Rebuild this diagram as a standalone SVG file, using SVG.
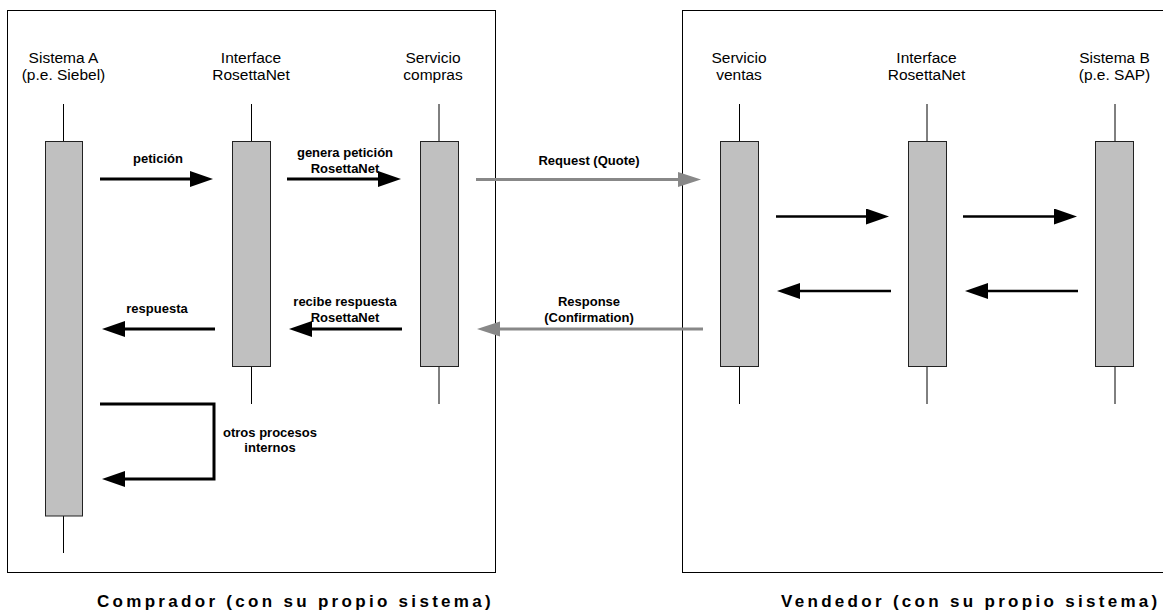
<svg xmlns="http://www.w3.org/2000/svg" width="1163" height="613" viewBox="0 0 1163 613">
<style>
.frame{fill:none;stroke:#000;stroke-width:1}
.life{stroke:#000;stroke-width:1}
.act{fill:#c0c0c0;stroke:#222;stroke-width:1}
.hdr{font-family:"Liberation Sans",Arial,sans-serif;font-size:15.5px;fill:#000;text-anchor:middle}
.lbl{font-family:"Liberation Sans",Arial,sans-serif;font-size:13px;font-weight:bold;fill:#000;text-anchor:middle}
.ttl{font-family:"Liberation Sans",Arial,sans-serif;font-size:17px;font-weight:bold;fill:#000;letter-spacing:3.3px}
.blk{fill:none;stroke:#000;stroke-width:3}
.blk2{fill:none;stroke:#000;stroke-width:2.6}
.gry{fill:none;stroke:#888;stroke-width:3}
</style>
<defs>
<marker id="hb" viewBox="0 -8 23 16" refX="2" refY="0" markerWidth="23" markerHeight="16" markerUnits="userSpaceOnUse" orient="auto"><path d="M0,-8 L23,0 L0,8 Z" fill="#000"/></marker>
<marker id="hg" viewBox="0 -8 23 16" refX="2" refY="0" markerWidth="23" markerHeight="16" markerUnits="userSpaceOnUse" orient="auto"><path d="M0,-7.5 L23,0 L0,7.5 Z" fill="#888"/></marker>
</defs>

<g id="frame-comprador">
<rect class="frame" x="7.5" y="10.5" width="488" height="562"/>
<text class="ttl" x="97" y="607">Comprador (con su propio sistema)</text>
</g>
<g id="frame-vendedor">
<rect class="frame" x="682.5" y="10.5" width="490" height="562"/>
<text class="ttl" x="781" y="607">Vendedor (con su propio sistema)</text>
</g>

<g id="sistema-a">
<text class="hdr" x="63.5" y="63">Sistema A</text>
<text class="hdr" x="63.5" y="80">(p.e. Siebel)</text>
<line class="life" x1="63.5" y1="104" x2="63.5" y2="553"/>
<rect class="act" x="45.5" y="141.5" width="37" height="374.5"/>
</g>
<g id="interface-a">
<text class="hdr" x="251" y="63">Interface</text>
<text class="hdr" x="251" y="80">RosettaNet</text>
<line class="life" x1="251.5" y1="104" x2="251.5" y2="404"/>
<rect class="act" x="232.5" y="141.5" width="38" height="225"/>
</g>
<g id="servicio-compras">
<text class="hdr" x="433" y="63">Servicio</text>
<text class="hdr" x="433" y="80">compras</text>
<line class="life" x1="439" y1="104" x2="439" y2="404"/>
<rect class="act" x="420.5" y="141.5" width="38" height="225"/>
</g>
<g id="servicio-ventas">
<text class="hdr" x="739" y="63">Servicio</text>
<text class="hdr" x="739" y="80">ventas</text>
<line class="life" x1="739.5" y1="104" x2="739.5" y2="404"/>
<rect class="act" x="720.5" y="141.5" width="38" height="225"/>
</g>
<g id="interface-b">
<text class="hdr" x="926.5" y="63">Interface</text>
<text class="hdr" x="926.5" y="80">RosettaNet</text>
<line class="life" x1="927" y1="104" x2="927" y2="404"/>
<rect class="act" x="908.5" y="141.5" width="38" height="225"/>
</g>
<g id="sistema-b">
<text class="hdr" x="1114.5" y="63">Sistema B</text>
<text class="hdr" x="1114.5" y="80">(p.e. SAP)</text>
<line class="life" x1="1115" y1="104" x2="1115" y2="404"/>
<rect class="act" x="1095.5" y="141.5" width="38" height="225"/>
</g>

<g id="connectors">
<line class="blk" x1="100" y1="179" x2="192" y2="179" marker-end="url(#hb)"/>
<text class="lbl" x="158" y="163">petición</text>
<line class="blk" x1="287" y1="179" x2="380" y2="179" marker-end="url(#hb)"/>
<text class="lbl" x="345" y="157">genera petición</text>
<text class="lbl" x="345" y="173">RosettaNet</text>
<line class="gry" x1="476" y1="179.5" x2="680" y2="179.5" marker-end="url(#hg)"/>
<text class="lbl" x="589" y="165">Request (Quote)</text>
<line class="blk2" x1="776" y1="216.5" x2="868" y2="216.5" marker-end="url(#hb)"/>
<line class="blk2" x1="963" y1="216.5" x2="1056" y2="216.5" marker-end="url(#hb)"/>
<line class="blk2" x1="891" y1="291" x2="798" y2="291" marker-end="url(#hb)"/>
<line class="blk2" x1="1078" y1="291" x2="986" y2="291" marker-end="url(#hb)"/>
<line class="gry" x1="703" y1="329" x2="498" y2="329" marker-end="url(#hg)"/>
<text class="lbl" x="589" y="306">Response</text>
<text class="lbl" x="589" y="322">(Confirmation)</text>
<line class="blk" x1="402" y1="329" x2="310" y2="329" marker-end="url(#hb)"/>
<text class="lbl" x="345" y="306">recibe respuesta</text>
<text class="lbl" x="345" y="322">RosettaNet</text>
<line class="blk" x1="215" y1="329" x2="123" y2="329" marker-end="url(#hb)"/>
<text class="lbl" x="157" y="313">respuesta</text>
<polyline class="blk" points="100,404 214,404 214,479 123,479" marker-end="url(#hb)"/>
<text class="lbl" x="270" y="437">otros procesos</text>
<text class="lbl" x="270" y="452">internos</text>
</g>
</svg>
